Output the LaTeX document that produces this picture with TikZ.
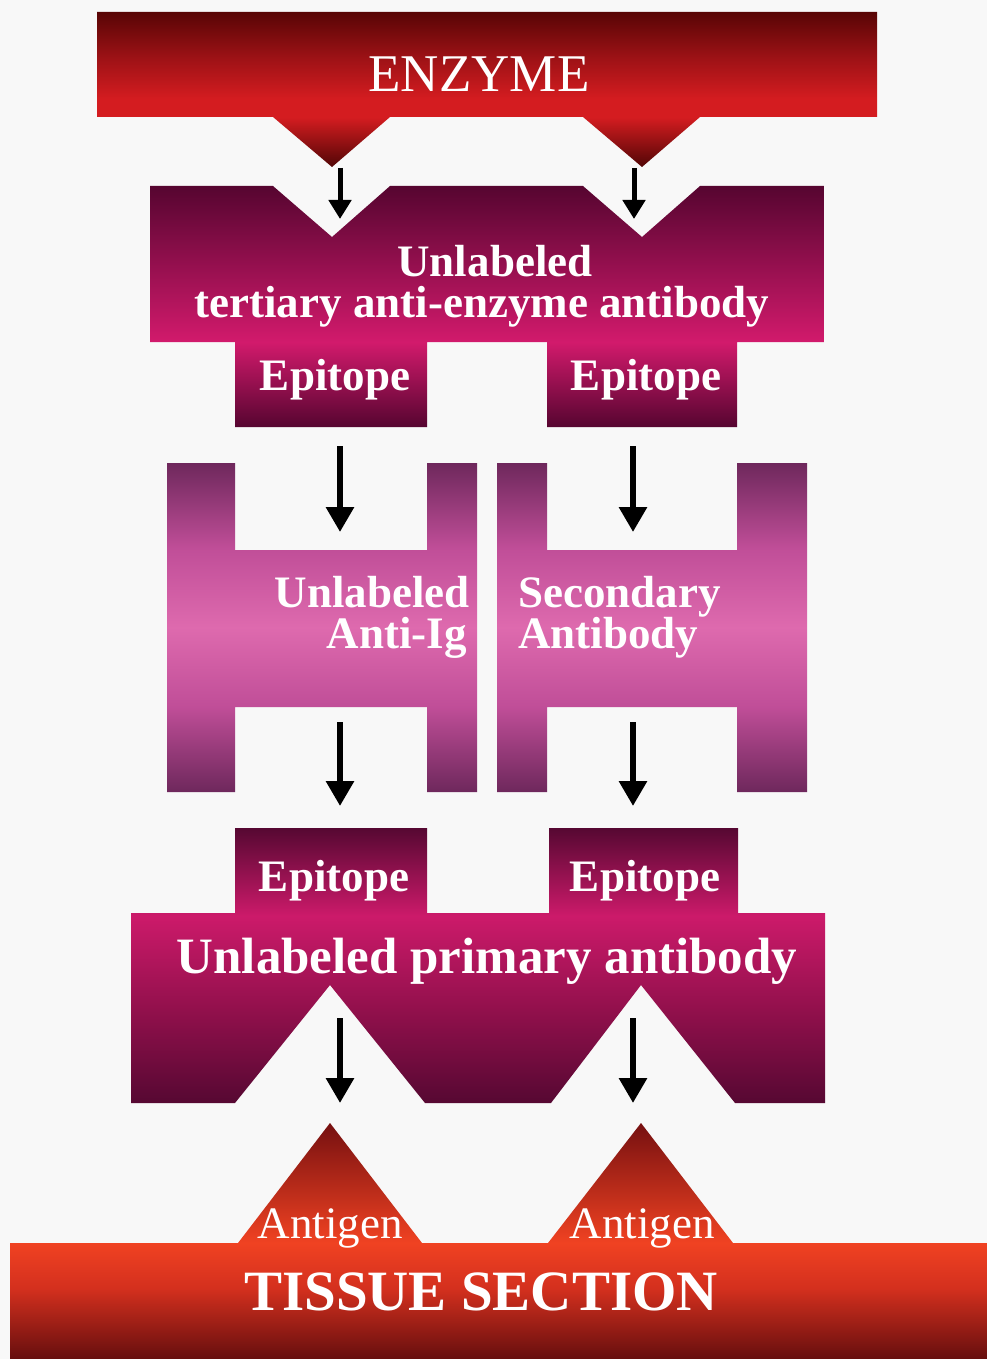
\documentclass[tikz,border=0pt]{standalone}
\usepackage{fontspec}
\setmainfont{Liberation Serif}
\usepackage{tikz}
\usetikzlibrary{arrows.meta}

\definecolor{bgcol}{HTML}{F8F8F8}
\definecolor{enztop}{HTML}{580505}
\definecolor{enzmid}{HTML}{9E1216}
\definecolor{enzbright}{HTML}{D41C20}
\definecolor{enzdark}{HTML}{520606}
\definecolor{tertdark}{HTML}{560530}
\definecolor{tertbright}{HTML}{D21A6C}
\definecolor{hdark}{HTML}{6E285C}
\definecolor{hmid}{HTML}{C04E98}
\definecolor{hlight}{HTML}{DE6AAE}
\definecolor{primdark}{HTML}{560832}
\definecolor{primmid}{HTML}{92104C}
\definecolor{primbright}{HTML}{CC1A6A}
\definecolor{tisapex}{HTML}{761010}
\definecolor{tisbright}{HTML}{F04222}
\definecolor{tismid}{HTML}{D4301E}
\definecolor{tisdark}{HTML}{660E0E}

\pgfdeclareverticalshading{enzshade}{100bp}{color(0bp)=(enzdark); color(25bp)=(enzdark);
  color(41bp)=(enzbright); color(47bp)=(enzbright); color(60bp)=(enzmid);
  color(75bp)=(enztop); color(100bp)=(enztop)}
\pgfdeclareverticalshading{tertshade}{100bp}{color(0bp)=(tertdark); color(25bp)=(tertdark);
  color(42.6bp)=(tertbright); color(75bp)=(tertdark); color(100bp)=(tertdark)}
\pgfdeclareverticalshading{hshade}{100bp}{color(0bp)=(hdark); color(25bp)=(hdark);
  color(38bp)=(hmid); color(50bp)=(hlight); color(62bp)=(hmid);
  color(75bp)=(hdark); color(100bp)=(hdark)}
\pgfdeclareverticalshading{primshade}{100bp}{color(0bp)=(primdark); color(25bp)=(primdark);
  color(42bp)=(primmid); color(59bp)=(primbright); color(75bp)=(primdark); color(100bp)=(primdark)}
\pgfdeclareverticalshading{tisshade}{100bp}{color(0bp)=(tisdark); color(25bp)=(tisdark);
  color(40bp)=(tismid); color(49.6bp)=(tisbright); color(75bp)=(tisapex); color(100bp)=(tisapex)}

\begin{document}
\begin{tikzpicture}[x=1pt, y=-1pt,
    lbl/.style={text=white, inner sep=0pt, font=\fontsize{45}{50}\selectfont\bfseries},
    thin lbl/.style={text=white, inner sep=0pt, font=\fontsize{45}{50}\selectfont},
    arr/.style={line width=6pt, -{Triangle[width=27pt,length=25pt]}},
    small arr/.style={line width=5pt, -{Triangle[width=22pt,length=19pt]}},
    ]
    \fill[bgcol] (0,0) rectangle (987,1359);
    % Enzyme -----------------------------------------------------------
    \shade[shading=enzshade] (97,12) -- (877,12) -- (877,117) -- (700,117) -- (642,167)
        -- (583,117) -- (390,117) -- (332,167) -- (273,117) -- (97,117) -- cycle;
    \node[thin lbl, font=\fontsize{53}{58}\selectfont, anchor=base] (enz) at (479,92) {ENZYME};
    % Tertiary antibody ------------------------------------------------
    \shade[shading=tertshade] (150,186) -- (273,186) -- (332,237) -- (390,186) -- (583,186)
        -- (642,237) -- (700,186) -- (824,186) -- (824,342) -- (737,342) -- (737,427)
        -- (547,427) -- (547,342) -- (427,342) -- (427,427) -- (235,427) -- (235,342)
        -- (150,342) -- cycle;
    \node[lbl, font=\fontsize{45}{41}\selectfont\bfseries, align=center, anchor=base] (tert)
        at (482,317) {\hspace*{26pt}Unlabeled\\tertiary anti-enzyme antibody};
    \node[lbl, anchor=base] (tepiL) at (335,390) {Epitope};
    \node[lbl, anchor=base] (tepiR) at (646,390) {Epitope};
    % Secondary antibodies ---------------------------------------------
    \shade[shading=hshade] (167,463) -- (235,463) -- (235,550) -- (427,550) -- (427,463)
        -- (477,463) -- (477,792) -- (427,792) -- (427,707) -- (235,707) -- (235,792)
        -- (167,792) -- cycle;
    \shade[shading=hshade] (497,463) -- (547,463) -- (547,550) -- (737,550) -- (737,463)
        -- (807,463) -- (807,792) -- (737,792) -- (737,707) -- (547,707) -- (547,792)
        -- (497,792) -- cycle;
    \node[lbl, anchor=base east] (antiig1) at (470,607) {Unlabeled};
    \node[lbl, anchor=base east] (antiig2) at (467,648) {Anti-Ig};
    \node[lbl, anchor=base west] (sec1) at (518,607) {Secondary};
    \node[lbl, anchor=base west] (sec2) at (518,648) {Antibody};
    % Primary antibody -------------------------------------------------
    \shade[shading=primshade] (235,828) -- (427,828) -- (427,913) -- (549,913) -- (549,828)
        -- (738,828) -- (738,913) -- (825,913) -- (825,1103) -- (735,1103) -- (641,985)
        -- (551,1103) -- (425,1103) -- (330,985) -- (235,1103) -- (131,1103) -- (131,913)
        -- (235,913) -- cycle;
    \node[lbl, anchor=base] (pepiL) at (334,891) {Epitope};
    \node[lbl, anchor=base] (pepiR) at (645,891) {Epitope};
    \node[lbl, font=\fontsize{51}{56}\selectfont\bfseries, anchor=base] (prim) at (487,973)
        {Unlabeled primary antibody};
    % Tissue section ---------------------------------------------------
    \shade[shading=tisshade] (10,1243) -- (238,1243) -- (330,1123) -- (422,1243) -- (548,1243)
        -- (641,1123) -- (733,1243) -- (987,1243) -- (987,1359) -- (10,1359) -- cycle;
    \node[thin lbl, anchor=base] (agL) at (330,1238) {Antigen};
    \node[thin lbl, anchor=base] (agR) at (642,1238) {Antigen};
    \node[lbl, font=\fontsize{57}{62}\selectfont\bfseries, anchor=base] (tis) at (481,1310)
        {TISSUE SECTION};
    % Arrows -----------------------------------------------------------
    \coordinate (e1) at (340,168);  \coordinate (t1) at (340,219);
    \coordinate (e2) at (634,168);  \coordinate (t2) at (634,219);
    \coordinate (u1) at (340,446);  \coordinate (d1) at (340,532);
    \coordinate (u2) at (633,446);  \coordinate (d2) at (633,532);
    \coordinate (u3) at (340,722);  \coordinate (d3) at (340,806);
    \coordinate (u4) at (633,722);  \coordinate (d4) at (633,806);
    \coordinate (p1) at (340,1018); \coordinate (a1) at (340,1103);
    \coordinate (p2) at (633,1018); \coordinate (a2) at (633,1103);
    \draw[small arr] (e1) -- (t1);
    \draw[small arr] (e2) -- (t2);
    \draw[arr] (u1) -- (d1);
    \draw[arr] (u2) -- (d2);
    \draw[arr] (u3) -- (d3);
    \draw[arr] (u4) -- (d4);
    \draw[arr] (p1) -- (a1);
    \draw[arr] (p2) -- (a2);
\end{tikzpicture}
\end{document}
